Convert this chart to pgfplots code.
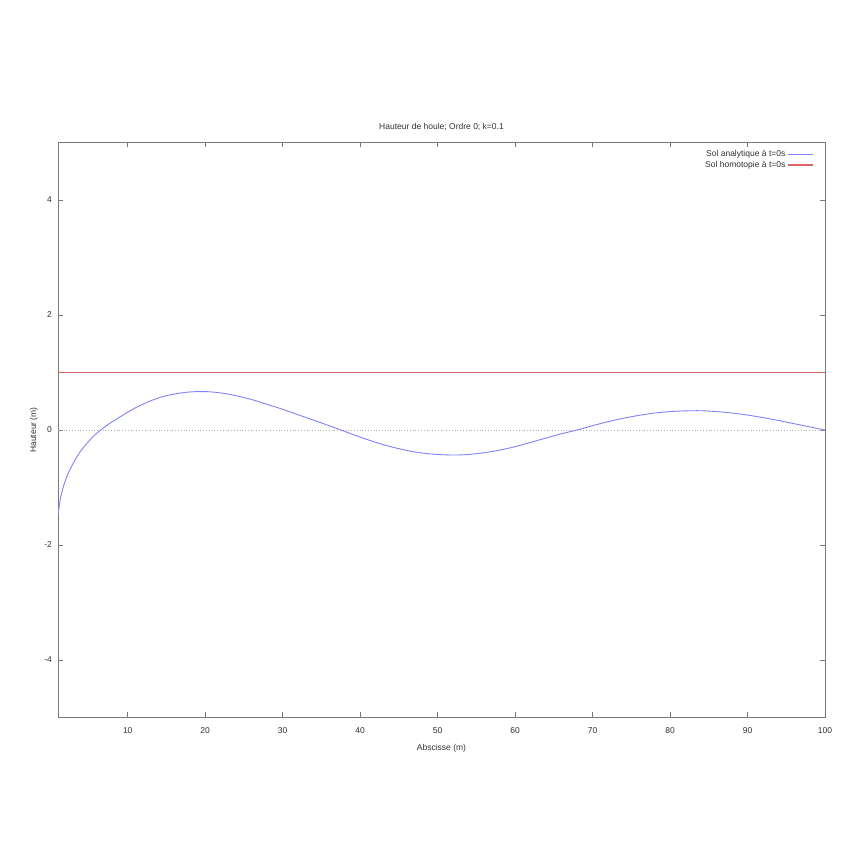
\documentclass[border=0pt]{standalone}
\usepackage{pgfplots}
\pgfplotsset{compat=1.18}
\usepackage{fontspec}
\setmainfont{Liberation Sans}
\definecolor{txtcol}{RGB}{50,50,50}
\definecolor{framecol}{RGB}{120,120,120}
\definecolor{lineblue}{RGB}{130,130,250}
\definecolor{linered}{RGB}{220,100,100}
\pgfplotsset{legend image code/.code={\draw[#1, line width=1.5bp] (0bp,0bp) -- (25bp,0bp);}}
\begin{document}
\fontsize{8.5bp}{10bp}\selectfont
\begin{tikzpicture}
\path[use as bounding box, fill=white] (0,0) rectangle (864bp,864bp);
\begin{axis}[
  at={(58bp,146.5bp)}, anchor=south west,
  scale only axis, width=767bp, height=575bp,
  xmin=1, xmax=100, ymin=-5, ymax=5,
  xtick={10,20,...,100}, ytick={-4,-2,0,2,4},
  tick align=inside, major tick length=5bp,
  axis line style={framecol, line width=0.8bp},
  tick style={framecol, line width=0.8bp},
  every tick label/.append style={text=txtcol},
  /pgf/number format/assume math mode=true,
  xticklabel style={yshift=-7bp},
  yticklabel style={xshift=-3bp},
  title={Hauteur de houle; Ordre 0; k=0.1},
  title style={at={(axis description cs:0.5,1.0174)}, anchor=center, text=txtcol},
  xlabel={Abscisse (m)},
  xlabel style={at={(axis description cs:0.5,-0.054)}, anchor=center, text=txtcol},
  ylabel={Hauteur (m)},
  ylabel style={at={(axis description cs:-0.0313,0.5)}, anchor=center, text=txtcol},
  legend style={draw=none, fill=none, at={(rel axis cs:1,1)}, anchor=north east,
    xshift=-8bp, yshift=-4bp, text=txtcol, row sep=-1bp},
  legend cell align=right, legend plot pos=right,
]
\addplot[framecol!60, dotted, line width=0.8bp, forget plot] coordinates {(1,0) (100,0)};
\addplot[draw=lineblue, line width=0.9bp, smooth] coordinates {
(1,-1.49) (1.3,-1.20) (1.75,-0.96) (2.3,-0.76) (3,-0.57) (3.7,-0.41)
(4.5,-0.27) (5.5,-0.12) (6.5,0.0) (7.5,0.10) (8.5,0.185) (10,0.31)
(11.5,0.42) (13,0.51) (14.5,0.58) (16,0.625) (17.5,0.655) (19,0.668)
(20.5,0.665) (22,0.645) (23.5,0.61) (25,0.565) (26.5,0.51) (28,0.445)
(30,0.36) (32,0.265) (34,0.17) (36,0.075) (37.5,0.0) (39,-0.075)
(41,-0.17) (43,-0.255) (45,-0.325) (47,-0.38) (49,-0.415) (51,-0.432)
(52.5,-0.435) (54,-0.425) (56,-0.395) (58,-0.35) (60,-0.29) (62,-0.215)
(64,-0.14) (66,-0.065) (68,0.0) (70,0.075) (72,0.145) (74,0.205)
(76,0.255) (78,0.295) (80,0.32) (82,0.333) (84,0.335) (86,0.32)
(88,0.295) (90,0.26) (92,0.215) (94,0.165) (96,0.11) (98,0.055) (100,0.0)
};
\addlegendentry{Sol analytique à t=0s}
\addplot[draw=linered, line width=1bp] coordinates {(1,1) (100,1)};
\addlegendentry{Sol homotopie à t=0s}
\end{axis}
\end{tikzpicture}
\end{document}
